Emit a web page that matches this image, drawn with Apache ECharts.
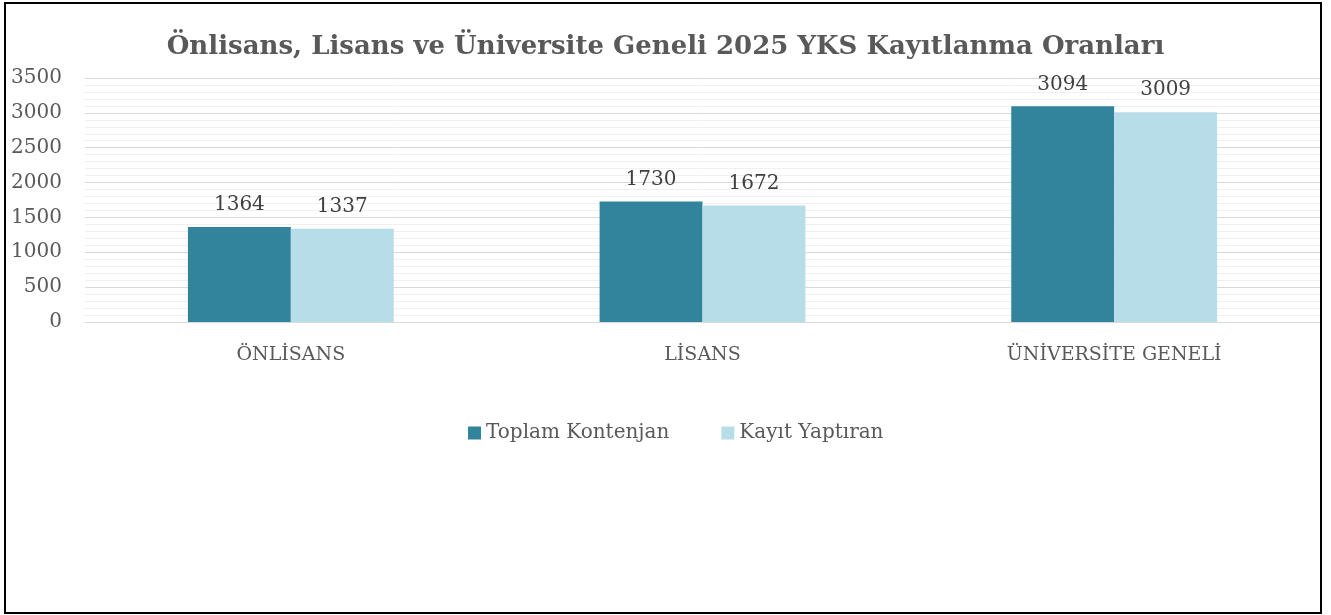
<!DOCTYPE html>
<html><head><meta charset="utf-8">
<script src="https://cdn.jsdelivr.net/npm/echarts@6/dist/echarts.min.js"></script>
<style>html,body{margin:0;padding:0;background:#fff}#c{width:1331px;height:615px}</style>
</head><body><div id="c"></div>
<script>
const categories = ["ÖNLİSANS", "LİSANS", "ÜNİVERSİTE GENELİ"];
const seriesNames = ["Toplam Kontenjan", "Kayıt Yaptıran"];
const toplamKontenjan = [1364, 1730, 3094];
const kayitYaptiran = [1337, 1672, 3009];
const titleText = "Önlisans, Lisans ve Üniversite Geneli 2025 YKS Kayıtlanma Oranları";

const FONT = "DejaVu Serif";
const TXT = "#595959";
const chart = echarts.init(document.getElementById('c'));
chart.setOption({
  animation: false,
  title: { text: titleText, left: 'center', top: 29,
    textStyle: { fontFamily: FONT, fontWeight: 'bold', fontSize: 26, color: TXT } },
  legend: { bottom: 167, left: 463, itemWidth: 13, itemHeight: 13, itemGap: 52,
    icon: 'rect', textStyle: { fontFamily: FONT, fontSize: 20, color: TXT },
    data: seriesNames },
  grid: { left: 85, right: 11, top: 78, bottom: 293 },
  xAxis: { type: 'category', data: categories,
    axisLine: { lineStyle: { color: '#D9D9D9', width: 1 } }, axisTick: { show: false },
    axisLabel: { fontFamily: FONT, fontSize: 19, color: TXT, margin: 24 } },
  yAxis: { type: 'value', min: 0, max: 3500, interval: 500,
    axisLabel: { fontFamily: FONT, fontSize: 20, color: TXT, margin: 23, formatter: v => String(v) },
    splitLine: { lineStyle: { color: '#D9D9D9', width: 1 } },
    minorTick: { show: false, splitNumber: 5 },
    minorSplitLine: { show: true, lineStyle: { color: '#F0F0F0', width: 1 } } },
  series: [
    { name: seriesNames[0], type: 'bar', data: toplamKontenjan, barGap: '0%', barCategoryGap: '50%',
      itemStyle: { color: '#31849B' },
      label: { show: true, position: 'top', distance: 12, fontFamily: FONT, fontSize: 20, color: '#404040' } },
    { name: seriesNames[1], type: 'bar', data: kayitYaptiran,
      itemStyle: { color: '#B6DDE8' },
      label: { show: true, position: 'top', distance: 12, fontFamily: FONT, fontSize: 20, color: '#404040' } }
  ],
  graphic: [{ type: 'rect', shape: { x: 5, y: 3, width: 1316, height: 610 },
    style: { fill: 'none', stroke: '#000', lineWidth: 2 }, z: 100 }]
});
</script></body></html>
